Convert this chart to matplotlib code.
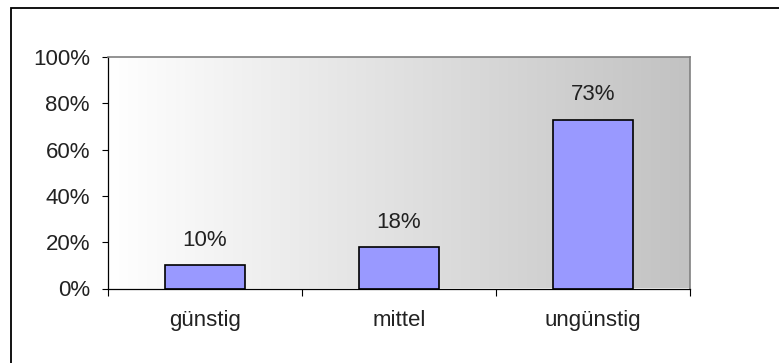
import numpy as np
import matplotlib
matplotlib.use('Agg')
import matplotlib.pyplot as plt
from matplotlib.colors import LinearSegmentedColormap
from matplotlib.patches import Rectangle

categories = ['günstig', 'mittel', 'ungünstig']
shares = [10, 18, 73]
y_ticks = [0, 20, 40, 60, 80, 100]
y_tick_labels = ['0%', '20%', '40%', '60%', '80%', '100%']

plt.rcParams['font.family'] = ['Liberation Sans', 'DejaVu Sans']
plt.rcParams['font.size'] = 16

fig = plt.figure(figsize=(7.79, 3.63), dpi=100)
ax = fig.add_axes([108 / 779, 1 - 288.5 / 363, (690 - 108) / 779, (288.5 - 57) / 363])

# grey horizontal gradient behind the bars
grad = LinearSegmentedColormap.from_list('bg', ['#ffffff', '#c2c2c2'])
ax.imshow(np.linspace(0, 1, 256).reshape(1, -1), cmap=grad, aspect='auto',
          extent=[-0.5, 2.5, 0, 100], zorder=0, interpolation='bilinear')

x = np.arange(len(categories))
ax.bar(x, shares, width=0.41, color='#9999ff', edgecolor='black', linewidth=1.2, zorder=2)
for xi, v in zip(x, shares):
    ax.annotate(f'{v}%', (xi, v), xytext=(0, 13.7), textcoords='offset points',
                ha='center', va='baseline', color='#222222')

ax.set_xlim(-0.5, 2.5)
ax.set_ylim(0, 100)
ax.set_yticks(y_ticks)
ax.set_yticklabels(y_tick_labels)
ax.tick_params(axis='y', direction='out', length=4, width=0.8, pad=9, colors='black',
               labelcolor='#222222')

# category boundaries get the tick marks, names sit in between
ax.set_xticks([-0.5, 0.5, 1.5, 2.5])
ax.set_xticklabels([])
ax.set_xticks(x, minor=True)
ax.set_xticklabels(categories, minor=True)
ax.tick_params(axis='x', which='major', direction='out', length=5, width=0.8)
ax.tick_params(axis='x', which='minor', length=0, pad=15.5, labelcolor='#222222')

for side in ['top', 'right']:
    ax.spines[side].set_color('#808080')
    ax.spines[side].set_linewidth(1.2)
for side in ['left', 'bottom']:
    ax.spines[side].set_color('black')
    ax.spines[side].set_linewidth(0.9)

# outer chart frame
fig.patches.append(Rectangle((11 / 779, -0.1), 1.2, 1 - 8.5 / 363 + 0.1,
                             transform=fig.transFigure, fill=False,
                             edgecolor='black', linewidth=1.3))

fig.savefig('out.png', dpi=100)
